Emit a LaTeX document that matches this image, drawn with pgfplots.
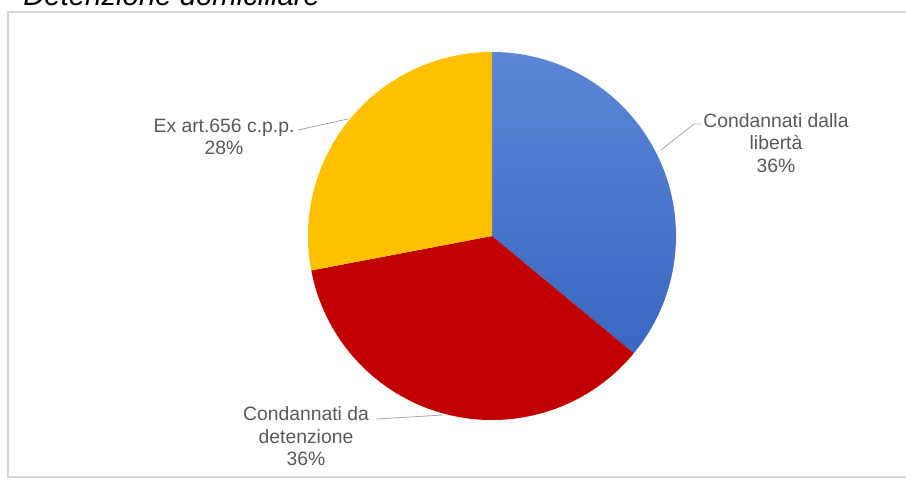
\documentclass[border=0pt]{standalone}
\usepackage{pgfplots}
\usepackage{pgfplotstable}
\pgfplotsset{compat=1.18}
\usepackage{fontspec}
\setmainfont{Liberation Sans}
\definecolor{blueTop}{HTML}{5B86D6}
\definecolor{blueBot}{HTML}{3A67C0}
\definecolor{pieRed}{HTML}{C00000}
\definecolor{pieYel}{HTML}{FFC000}
\definecolor{lbl}{HTML}{595959}
\definecolor{lead}{HTML}{A6A6A6}
\definecolor{framec}{HTML}{D6D6D6}
\pgfplotstableread{
id value
libera 36
detenzione 36
exart 28
}\piedata
\newcommand{\lblfont}{\fontsize{14.5}{17}\selectfont}
\begin{document}
\begin{tikzpicture}
\pgfplotstablegetelem{0}{value}\of\piedata \pgfmathsetmacro\va{\pgfplotsretval}
\pgfplotstablegetelem{1}{value}\of\piedata \pgfmathsetmacro\vb{\pgfplotsretval}
\pgfplotstablegetelem{2}{value}\of\piedata \pgfmathsetmacro\vc{\pgfplotsretval}
\pgfmathsetmacro\tot{\va+\vb+\vc}
\pgfmathsetmacro\aA{90}
\pgfmathsetmacro\aB{90-360*\va/\tot}
\pgfmathsetmacro\aC{\aB-360*\vb/\tot}
\pgfmathsetmacro\aD{\aC-360*\vc/\tot}
\def\R{138pt}
\clip (0,0) rectangle (679.5pt,359.25pt);
\useasboundingbox (0,0) rectangle (679.5pt,359.25pt);
\begin{axis}[at={(0,0)}, anchor=south west, scale only axis,
  width=679.5pt, height=359.25pt,
  xmin=0, xmax=906, ymin=0, ymax=479, y dir=reverse,
  hide axis, clip=false]
% frame
\draw[framec, line width=1.3pt] (axis cs:8,477) rectangle (axis cs:930,12);
% title (cut off at top)
\node[anchor=base west, inner sep=0pt, font=\fontsize{22}{26}\selectfont\itshape] at (axis cs:23,5) {Detenzione domiciliare};
% slices
\shade[top color=blueTop, bottom color=blueBot] (axis cs:492,236) -- ++(\aA:\R) arc[start angle=\aA, end angle=\aB, radius=\R] -- cycle;
\fill[pieRed] (axis cs:492,236) -- ++(\aB:\R) arc[start angle=\aB, end angle=\aC, radius=\R] -- cycle;
\fill[pieYel] (axis cs:492,236) -- ++(\aC:\R) arc[start angle=\aC, end angle=\aD, radius=\R] -- cycle;
% leader lines
\draw[lead, line width=0.6pt] (axis cs:661,150) -- (axis cs:694,124) -- (axis cs:701,124);
\draw[lead, line width=0.6pt] (axis cs:298,130) -- (axis cs:348,119);
\draw[lead, line width=0.6pt] (axis cs:376,419) -- (axis cs:443,415);
% labels
\node[anchor=base, inner sep=0pt, text=lbl, font=\lblfont] at (axis cs:776,127) {Condannati dalla};
\node[anchor=base, inner sep=0pt, text=lbl, font=\lblfont] at (axis cs:776,149) {libertà};
\node[anchor=base, inner sep=0pt, text=lbl, font=\lblfont] at (axis cs:776,172) {36\%};
\node[anchor=base, inner sep=0pt, text=lbl, font=\lblfont] at (axis cs:224,132) {Ex art.656 c.p.p.};
\node[anchor=base, inner sep=0pt, text=lbl, font=\lblfont] at (axis cs:224,154) {28\%};
\node[anchor=base, inner sep=0pt, text=lbl, font=\lblfont] at (axis cs:306,420) {Condannati da};
\node[anchor=base, inner sep=0pt, text=lbl, font=\lblfont] at (axis cs:306,443) {detenzione};
\node[anchor=base, inner sep=0pt, text=lbl, font=\lblfont] at (axis cs:306,465) {36\%};
\end{axis}
\end{tikzpicture}
\end{document}
